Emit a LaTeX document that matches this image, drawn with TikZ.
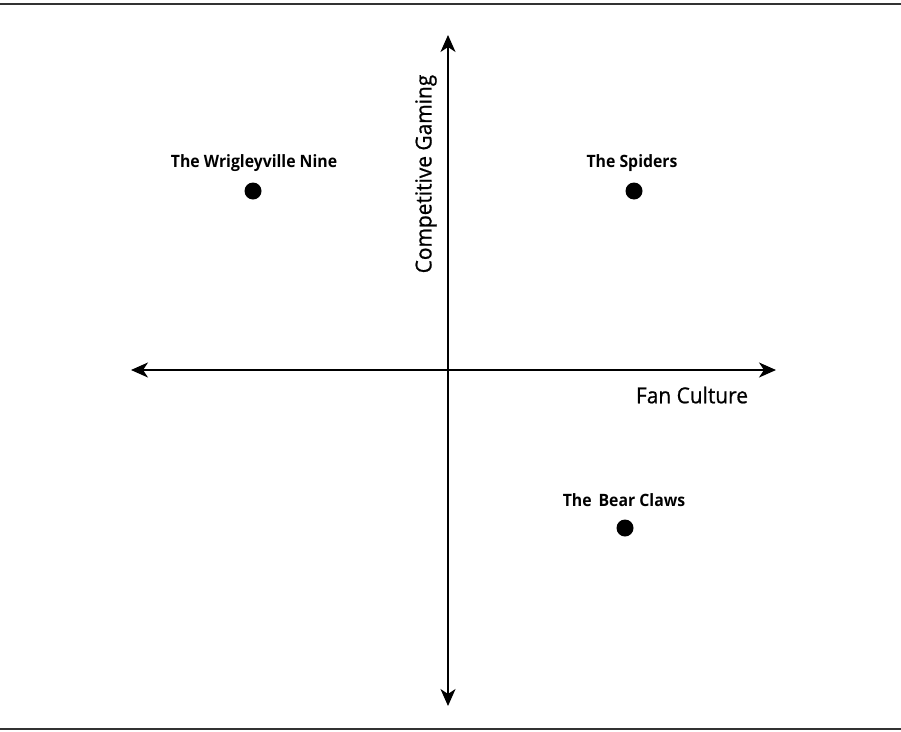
\documentclass[tikz,border=0pt]{standalone}
\usepackage{fontspec}
\setmainfont{Open Sans}
\newfontfamily\axfont[FakeStretch=0.95,FakeBold=0.8]{Open Sans}
\newfontfamily\lblfont[FakeStretch=0.93]{Open Sans}
\usetikzlibrary{arrows.meta}
\begin{document}
\begin{tikzpicture}[x=1pt,y=-1pt,
  axis/.style={line width=2pt,{Stealth[length=17pt,width=15pt,inset=5pt]}-{Stealth[length=17pt,width=15pt,inset=5pt]}},
  dot/.style={circle,fill=black,inner sep=0pt,minimum size=17pt},
  lbl/.style={font=\lblfont\fontsize{17}{19}\selectfont\bfseries,inner sep=0pt},
  axlbl/.style={font=\axfont\fontsize{22}{25}\selectfont,inner sep=0pt},
  rule/.style={line width=2pt,draw=black!80}]
\useasboundingbox (0,0) rectangle (901,731);
\coordinate (tl) at (0,4);
\coordinate (tr) at (901,4);
\coordinate (bl) at (0,729);
\coordinate (br) at (901,729);
\draw[rule] (tl) -- (tr);
\draw[rule] (bl) -- (br);
\coordinate (top) at (448,35);
\coordinate (bot) at (448,706);
\coordinate (left) at (131,370);
\coordinate (right) at (776,370);
\draw[axis] (bot) -- (top);
\draw[axis] (left) -- (right);
\node[axlbl,rotate=90] (yl) at (426,174) {Competitive Gaming};
\node[axlbl] (xl) at (692,395) {Fan Culture};
\node[dot] (w) at (253,191) {};
\node[dot] (s) at (634,191) {};
\node[dot] (b) at (625,528) {};
\node[lbl] (wl) at (254,163) {The Wrigleyville Nine};
\node[lbl] (sl) at (632,163) {The Spiders};
\node[lbl] (bl2) at (624,500) {The\, Bear Claws};
\end{tikzpicture}
\end{document}
